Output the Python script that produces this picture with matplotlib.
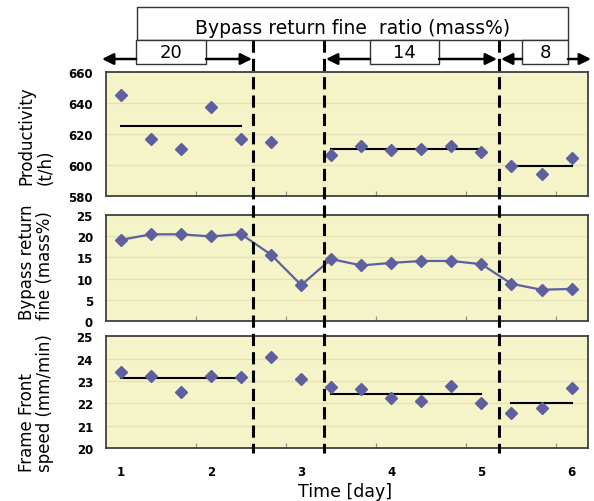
import numpy as np
import matplotlib
matplotlib.use('Agg')
import matplotlib.pyplot as plt
from matplotlib import transforms
from matplotlib.lines import Line2D
from matplotlib.patches import Rectangle

# ---------------- data ----------------
day = [1.000, 1.333, 1.667, 2.000, 2.333, 2.667, 3.000, 3.333,
       3.667, 4.000, 4.333, 4.667, 5.000, 5.333, 5.667, 6.000]
productivity = [645.3, 616.5, 610.1, 637.3, 616.5, 615.0, np.nan, 606.4,
                612.4, 609.6, 610.3, 612.4, 608.1, 599.0, 594.0, 604.2]
bypass_fine = [19.1, 20.4, 20.4, 19.9, 20.45, 15.6, 8.5, 14.6,
               13.1, 13.7, 14.15, 14.15, 13.4, 8.8, 7.4, 7.6]
front_speed = [23.41, 23.24, 22.49, 23.21, 23.20, 24.09, 23.07, 22.72,
               22.64, 22.24, 22.10, 22.79, 22.00, 21.57, 21.78, 22.69]
group_ranges = [(0, 4), (7, 12), (13, 15)]
productivity_means = [625.0, 610.0, 599.1]
speed_means = [23.12, 22.40, 22.01]
boundary_days = [2.47, 3.25, 5.19]
ratio_labels = ['20', '14', '8']
x_ticks = [1, 2, 3, 4, 5, 6]
x_tick_labels = ['1', '2', '3', '4', '5', '6']
title_text = 'Bypass return fine  ratio (mass%)'

# ---------------- style ----------------
plt.rcParams['font.family'] = ['DejaVu Sans']
W, H = 594, 502
BG = '#F4F4C8'
GRID = '#E2E2B4'
MC = '#5E5F9E'
SPINE = '#404040'
MS = 6.3

fig = plt.figure(figsize=(W / 100, H / 100), dpi=100)


def px_axes(l, t, r, b):
    return fig.add_axes([l / W, 1 - b / H, (r - l) / W, (b - t) / H])


ax1 = px_axes(106, 73.3, 588, 196.7)
ax2 = px_axes(106, 215.7, 588, 322.3)
ax3 = px_axes(106, 337.3, 588, 449)

ylims = [(580, 660, 20), (0, 25, 5), (20, 25, 1)]
for ax, (lo, hi, st) in zip([ax1, ax2, ax3], ylims):
    ax.set_facecolor(BG)
    ax.set_xlim(0.8335, 6.183)
    ax.set_ylim(lo, hi)
    yt = np.arange(lo, hi + st / 2, st)
    ax.set_yticks(yt)
    ax.set_yticklabels([f'{int(v)}' for v in yt], fontweight='bold', fontsize=8.5)
    for s in ax.spines.values():
        s.set_color(SPINE)
        s.set_linewidth(1.3)
    ax.grid(axis='y', color=GRID, lw=0.9)
    ax.set_axisbelow(True)
    ax.tick_params(axis='y', length=0, pad=9.4)
    ax.set_xticks(x_ticks)
    ax.set_xticks([1.833, 2.833, 3.833, 4.833, 5.833], minor=True)
    ax.tick_params(axis='x', which='minor', direction='in', length=3.5,
                   width=0.9, color='#909090')
    ax.tick_params(axis='x', which='major', length=0, pad=12)
    if ax is ax3:
        ax.set_xticklabels(x_tick_labels, fontweight='bold', fontsize=8.5)
    else:
        ax.set_xticklabels([])

# panel 1: productivity
ax1.plot(day, productivity, ls='none', marker='D', ms=MS, color=MC, zorder=3)
for (i0, i1), m in zip(group_ranges, productivity_means):
    ax1.plot([day[i0], day[i1]], [m, m], color='black', lw=1.5, zorder=2)

# panel 2: bypass return fine
ax2.plot(day, bypass_fine, '-', marker='D', ms=MS, lw=1.6, color=MC, zorder=3)

# panel 3: flame front speed
ax3.plot(day, front_speed, ls='none', marker='D', ms=MS, color=MC, zorder=3)
for (i0, i1), m in zip(group_ranges, speed_means):
    ax3.plot([day[i0], day[i1]], [m, m], color='black', lw=1.5, zorder=2)

# dashed boundaries spanning all panels
trans = transforms.blended_transform_factory(ax3.transData, fig.transFigure)
for d in boundary_days:
    fig.add_artist(Line2D([d, d], [1 - 41 / H, 1 - 454 / H], transform=trans,
                          color='black', lw=2.2, dashes=(4, 2), zorder=3))

# y labels
ylabels = ['Productivity\n(t/h)', 'Bypass return\nfine (mass%)',
           'Frame Front\nspeed (mm/min)']
starts = [185, 320, 472]
for lab, s in zip(ylabels, starts):
    fig.text(36 / W, 1 - s / H, lab, rotation=90, ha='center', va='bottom',
             multialignment='left', fontsize=12, linespacing=1.05)

fig.text(345 / W, 1 - 496.7 / H, 'Time [day]', ha='center', va='baseline',
         fontsize=12.5)

# annotation overlay (pixel coordinates)
ann = fig.add_axes([0, 0, 1, 1])
ann.set_xlim(0, W)
ann.set_ylim(H, 0)
ann.axis('off')
ann.set_zorder(4)

ann.add_patch(Rectangle((137, 8), 431, 32.7, fc='white', ec='#333333', lw=1.0))
ann.text(352.5, 34.5, title_text, ha='center', va='baseline', fontsize=13.5)

boxes = [(136, 206), (370, 439), (522, 568)]
for (l, r), lab in zip(boxes, ratio_labels):
    ann.add_patch(Rectangle((l, 40.7), r - l, 24.3, fc='white', ec='#333333', lw=1.0))
    ann.text((l + r) / 2, 58.3, lab, ha='center', va='baseline', fontsize=13)

arrows = [(136, 102), (206, 252), (370, 326), (439, 497), (522, 501), (568, 591)]
for start, tip in arrows:
    ann.annotate('', xy=(tip, 60), xytext=(start, 60),
                 arrowprops=dict(arrowstyle='-|>', color='black', lw=1.8,
                                 mutation_scale=17, shrinkA=0, shrinkB=0))

fig.savefig('out.png', dpi=100)
